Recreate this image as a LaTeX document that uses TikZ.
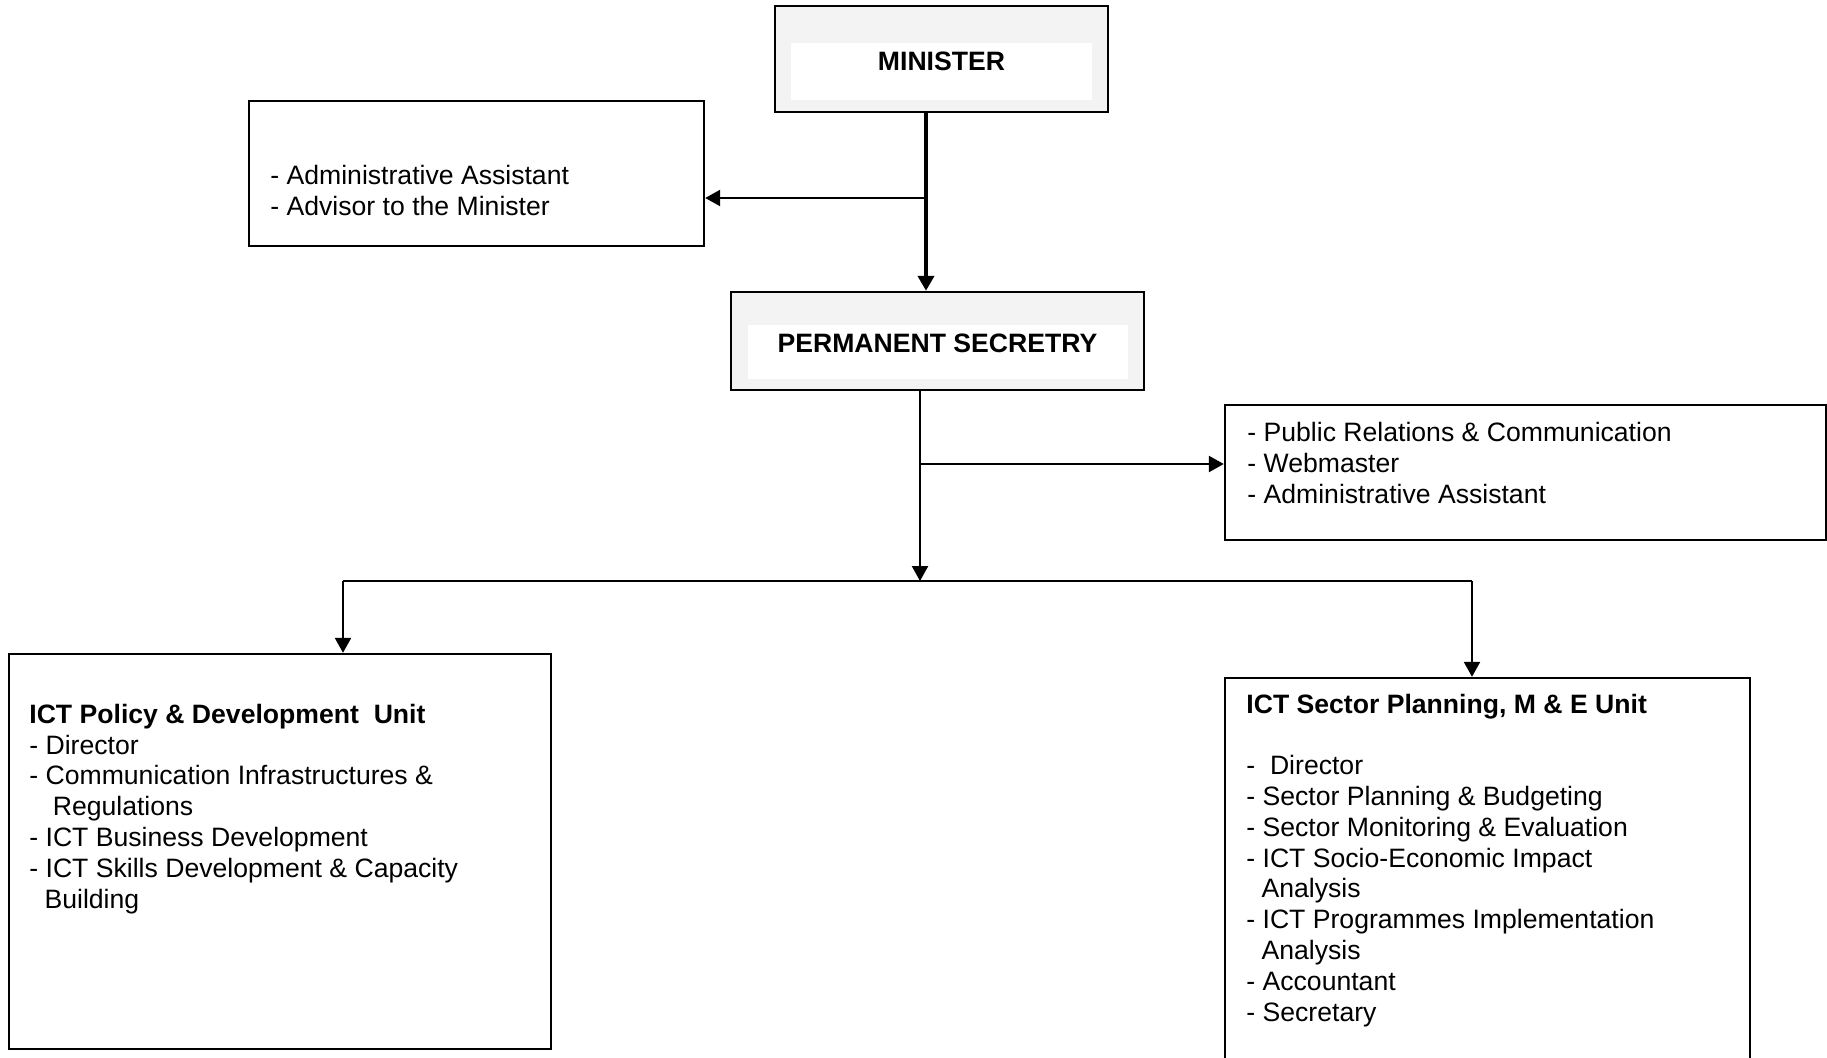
\documentclass[tikz,border=0pt]{standalone}
\usepackage{fontspec}
\setmainfont{Liberation Sans}
\usetikzlibrary{arrows.meta,fit}
\definecolor{panelgray}{HTML}{F3F3F3}
\begin{document}
\begin{tikzpicture}[x=0.5pt,y=-0.5pt,
  every node/.style={font=\fontsize{13.3}{15.4}\selectfont},
  frame/.style={draw, line width=1.2pt, inner sep=0pt},
  headframe/.style={frame, fill=panelgray},
  headpanel/.style={fill=white, draw=none, inner sep=0pt},
  % multi-line blocks are placed by the baseline of their last line
  listtext/.style={anchor=base west, align=left, inner sep=0pt},
  headtext/.style={anchor=base, inner sep=0pt, font=\fontsize{13.3}{15.4}\selectfont\bfseries},
  link/.style={line width=1.2pt, -{Triangle[length=7.5pt,width=8pt]}},
  plainlink/.style={line width=1.2pt}
]
\clip (0,0) rectangle (1827,1057);
\useasboundingbox (0,0) rectangle (1827,1057);

% Minister
\node[headframe, fit={(775,6) (1108,112)}] (min) {};
\node[headpanel, fit={(791,43) (1092,100)}] (minpanel) {};
\node[headtext] (mintext) at (941.5,70) {MINISTER};

% Office of the Minister
\node[frame, fit={(249,101) (704,246)}] (adv) {};
\node[listtext] (advtext) at (270,215) {- Administrative Assistant\\- Advisor to the Minister};

% Permanent Secretary
\node[headframe, fit={(731,292) (1144,390)}] (ps) {};
\node[headpanel, fit={(748,325) (1128,379)}] (pspanel) {};
\node[headtext] (pstext) at (937.5,352) {PERMANENT SECRETRY};

% Office of the Permanent Secretary
\node[frame, fit={(1225,405) (1826,540)}] (pr) {};
\node[listtext] (prtext) at (1247,503) {- Public Relations \& Communication\\- Webmaster\\- Administrative Assistant};

% Units
\node[frame, fit={(9,654) (551,1049)}] (policy) {};
\node[listtext] (policytext) at (29,908) {\textbf{ICT Policy \& Development\ \ Unit}\\- Director\\- Communication Infrastructures \&\\\hspace*{11.7pt}Regulations\\- ICT Business Development\\- ICT Skills Development \& Capacity\\\hspace*{7.6pt}Building};

\node[frame, fit={(1225,678) (1750,1070)}] (plan) {};
\node[listtext] (plantext) at (1246,1021) {\textbf{ICT Sector Planning, M \& E Unit}\\[15.4pt]-\ \ Director\\- Sector Planning \& Budgeting\\- Sector Monitoring \& Evaluation\\- ICT Socio-Economic Impact\\\hspace*{7.6pt}Analysis\\- ICT Programmes Implementation\\\hspace*{7.6pt}Analysis\\- Accountant\\- Secretary};

% Connectors
\coordinate (trunkA) at (926,198);
\coordinate (trunkB) at (920,464);
\coordinate (barL) at (343,581);
\coordinate (barR) at (1472,581);

\draw[link, line width=2pt] (trunkA |- min.south) -- (trunkA |- ps.north);
\draw[link] (trunkA) -- (trunkA -| adv.east);
\draw[link] (trunkB |- ps.south) -- (trunkB |- barL);
\draw[link] (trunkB) -- (trunkB -| pr.west);
\draw[plainlink] (barL) -- (barR);
\draw[link] (barL) -- (barL |- policy.north);
\draw[link] (barR) -- (barR |- plan.north);
\end{tikzpicture}
\end{document}
